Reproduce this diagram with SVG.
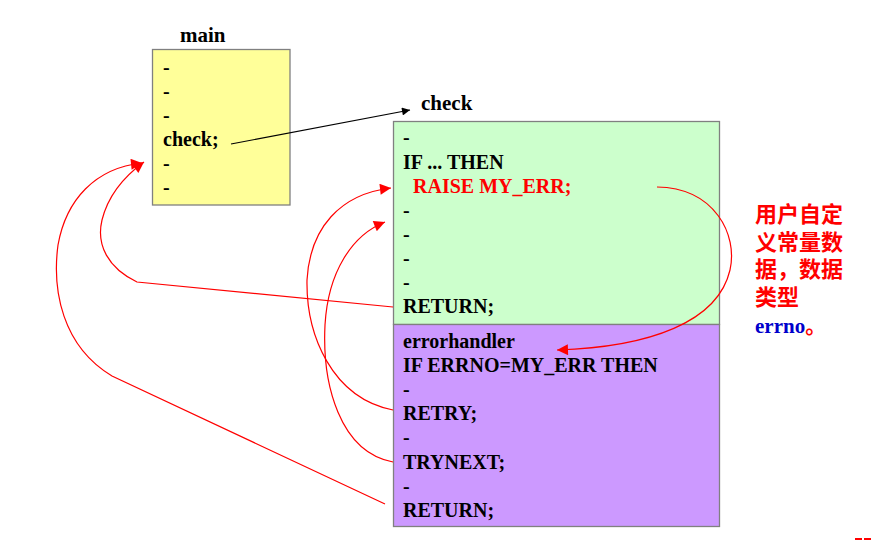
<svg xmlns="http://www.w3.org/2000/svg" width="886" height="541" viewBox="0 0 886 541">
<style>
.t{font-family:'Liberation Serif','DejaVu Serif','Noto Serif',serif;font-weight:bold;font-size:20px;fill:#000}
.red{fill:#ff0000}
.box{stroke:#808080;stroke-width:1.3}
.rl{fill:none;stroke:#ff0000;stroke-width:1.2}
.cn{font-family:'Noto Sans CJK SC','Noto Sans',sans-serif;font-weight:bold;font-size:22px;fill:#ff0000}
</style>
<defs>
<marker id="ar" viewBox="0 0 10 10" refX="10" refY="5" markerWidth="16" markerHeight="11" markerUnits="userSpaceOnUse" orient="auto">
<path d="M0,0 L10,5 L0,10 Z" fill="#ff0000"/>
</marker>
<marker id="ab" viewBox="0 0 10 10" refX="10" refY="5" markerWidth="11" markerHeight="8" markerUnits="userSpaceOnUse" orient="auto">
<path d="M0,0 L10,5 L0,10 Z" fill="#000"/>
</marker>
</defs>
<rect width="886" height="541" fill="#fff"/>
<g id="main">
<text class="t" x="180" y="42" style="font-size:21px">main</text>
<rect class="box" x="152.5" y="49.5" width="137.5" height="155.5" fill="#ffff99"/>
<text class="t" x="163" y="74">-</text>
<text class="t" x="163" y="98">-</text>
<text class="t" x="163" y="122">-</text>
<text class="t" x="163" y="146">check;</text>
<text class="t" x="163" y="170">-</text>
<text class="t" x="163" y="194">-</text>
</g>
<g id="check">
<text class="t" x="421" y="110" style="font-size:21px">check</text>
<rect class="box" x="393.5" y="121.5" width="326" height="203" fill="#ccffcc"/>
<text class="t" x="403" y="144">-</text>
<text class="t" x="403" y="169">IF ... THEN</text>
<text class="t red" x="413" y="193">RAISE MY_ERR;</text>
<text class="t" x="403" y="217">-</text>
<text class="t" x="403" y="241">-</text>
<text class="t" x="403" y="265">-</text>
<text class="t" x="403" y="289">-</text>
<text class="t" x="403" y="313">RETURN;</text>
</g>
<g id="errorhandler">
<rect class="box" x="393.5" y="324.5" width="326" height="202" fill="#cc99ff"/>
<text class="t" x="403" y="348">errorhandler</text>
<text class="t" x="403" y="372">IF ERRNO=MY_ERR THEN</text>
<text class="t" x="403" y="396">-</text>
<text class="t" x="403" y="420">RETRY;</text>
<text class="t" x="403" y="444">-</text>
<text class="t" x="403" y="469">TRYNEXT;</text>
<text class="t" x="403" y="493">-</text>
<text class="t" x="403" y="517">RETURN;</text>
</g>
<g id="note">
<text class="cn" x="755" y="222">用户自定</text>
<text class="cn" x="755" y="250">义常量数</text>
<text class="cn" x="755" y="277">据，数据</text>
<text class="cn" x="755" y="305">类型</text>
<text class="t" x="755" y="333" style="fill:#0000cc;font-size:21px">errno<tspan class="cn" style="font-size:21px">。</tspan></text>
</g>
<g id="connectors">
<path d="M231,144 L410,110" fill="none" stroke="#000" stroke-width="1.2" marker-end="url(#ab)"/>
<path class="rl" d="M393,307 L137,282 C108,268 96,245 102,220 C108,196 122,178 144,162" marker-end="url(#ar)"/>
<path class="rl" d="M385,504 L112,376 C62,346 52,290 58,245 C66,200 95,168 142,163" marker-end="url(#ar)"/>
<path class="rl" d="M393,410 C332,398 306,335 307,280 C310,228 340,194 391,188" marker-end="url(#ar)"/>
<path class="rl" d="M393,462 C340,452 322,385 325,325 C328,272 352,235 385,222" marker-end="url(#ar)"/>
<path class="rl" d="M657,187 C715,188 738,235 730,270 C718,322 650,347 557,350" marker-end="url(#ar)"/>
</g>
<rect x="855" y="538" width="7" height="2" fill="#ff0000"/>
<rect x="864" y="538" width="7" height="2" fill="#ff0000"/>
</svg>
